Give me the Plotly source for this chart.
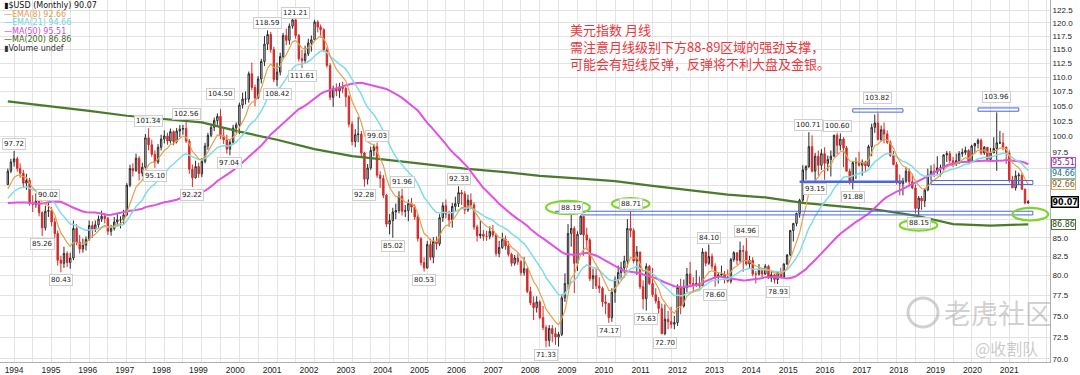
import math
import pandas as pd
import plotly.graph_objects as go

# ---------------- data ----------------
# monthly closes before the first visible bar (used only to seed EMA / MA lines)
warmup_close = [
    97.0, 95.6, 98.0, 98.5, 103.5, 101.5, 97.5, 101.0, 97.8, 96.5, 94.6, 92.8,   # 1989
    93.0, 92.5, 94.6, 93.5, 92.8, 91.6, 88.2, 86.0, 86.0, 82.6, 82.5, 83.9,      # 1990
    81.6, 84.2, 92.0, 93.2, 93.4, 97.6, 94.0, 94.5, 90.6, 90.4, 86.8, 84.8,      # 1991
    89.4, 91.6, 93.0, 92.2, 89.6, 85.6, 82.6, 80.0, 80.6, 86.0, 89.6, 90.8,      # 1992
    93.0, 93.4, 90.8, 88.4, 88.4, 91.4, 94.6, 91.4, 90.2, 92.6,                  # 1993 Jan-Oct
]
first_month = "1993-11-01"
first_open = 92.6

close = [
    94.6, 96.0,
    96.5, 95.0, 94.3, 92.8, 93.2, 89.9, 89.7, 90.2, 88.5, 86.4, 88.7, 88.8,
    87.2, 85.6, 82.0, 81.6, 82.9, 81.7, 82.3, 86.3, 84.4, 83.5, 84.0, 84.8,
    86.7, 86.2, 86.8, 87.6, 88.0, 87.7, 85.9, 86.3, 87.2, 87.5, 87.5, 88.2,
    92.5, 95.0, 94.7, 96.6, 94.3, 95.2, 99.8, 98.7, 97.2, 96.0, 98.3, 99.6,
    100.1, 99.3, 100.8, 99.2, 100.9, 101.2, 101.3, 99.3, 94.9, 93.6, 95.3, 94.2,
    96.1, 98.5, 100.2, 101.5, 102.6, 103.3, 100.1, 99.5, 98.0, 99.1, 101.4, 101.9,
    105.2, 106.2, 106.2, 110.6, 108.2, 106.4, 109.7, 112.8, 116.0, 117.8, 115.0, 109.6,
    110.9, 113.7, 117.6, 116.7, 119.4, 120.6, 117.6, 113.3, 113.0, 114.2, 116.2, 116.8,
    120.2, 119.2, 118.7, 114.9, 112.1, 106.5, 108.0, 107.6, 108.3, 108.0, 106.6, 102.0,
    99.2, 100.3, 100.4, 97.4, 93.4, 95.1, 97.8, 98.4, 94.0, 93.5, 91.0, 86.9,
    87.4, 88.6, 88.8, 90.9, 88.7, 88.8, 89.8, 89.3, 87.9, 84.9, 81.7, 81.0,
    84.1, 82.4, 84.5, 84.2, 87.8, 89.5, 88.3, 87.5, 89.4, 89.8, 91.4, 91.2,
    88.9, 90.3, 89.6, 86.5, 85.3, 85.5, 85.2, 85.2, 85.9, 85.4, 82.9, 83.7,
    84.8, 83.9, 82.8, 81.6, 82.3, 81.8, 80.4, 80.9, 78.0, 76.6, 76.0, 76.7,
    74.8, 73.6, 72.1, 73.5, 72.9, 72.5, 72.8, 77.2, 79.0, 85.6, 86.3, 81.6,
    85.5, 88.0, 85.4, 84.7, 79.6, 80.0, 78.7, 78.4, 76.7, 76.5, 74.8, 77.9,
    79.5, 80.4, 81.0, 81.9, 86.3, 86.0, 81.9, 83.1, 78.6, 77.1, 81.2, 79.0,
    77.6, 76.8, 75.9, 72.9, 74.6, 74.3, 74.0, 74.2, 78.5, 76.2, 78.5, 80.2,
    79.0, 78.8, 79.0, 78.7, 83.1, 81.6, 82.5, 81.2, 79.9, 80.1, 80.2, 79.8,
    79.3, 82.1, 83.0, 82.0, 83.3, 83.2, 81.5, 82.0, 80.2, 80.2, 80.7, 80.2,
    81.2, 79.7, 80.1, 79.5, 80.4, 79.8, 81.5, 82.7, 86.0, 87.0, 88.4, 90.3,
    94.8, 95.3, 98.4, 94.6, 96.9, 95.5, 97.3, 95.8, 96.4, 96.9, 100.2, 98.6,
    99.6, 98.2, 94.6, 93.1, 95.9, 95.9, 95.5, 96.0, 95.4, 98.4, 101.5, 102.2,
    99.5, 101.1, 100.4, 99.1, 97.0, 95.6, 92.9, 92.7, 93.1, 94.6, 93.0, 92.1,
    89.1, 90.6, 90.2, 91.8, 94.0, 94.6, 94.5, 95.1, 95.1, 97.1, 97.3, 96.2,
    95.6, 96.2, 97.3, 97.5, 97.8, 96.1, 98.5, 98.9, 99.4, 97.4, 98.3, 96.4,
    97.4, 98.1, 99.0, 99.0, 98.3, 97.4, 93.3, 92.1, 93.9, 94.0, 91.9, 89.9,
    90.07,
]
high = [
    95.0, 96.5,
    97.72, 96.8, 95.8, 94.8, 94.2, 93.6, 91.0, 91.3, 90.5, 88.7, 89.5, 90.02,
    89.3, 87.8, 86.0, 82.6, 83.8, 83.2, 83.0, 87.4, 86.9, 85.4, 84.9, 85.2,
    87.4, 87.3, 87.4, 88.1, 88.8, 88.4, 87.9, 86.8, 87.9, 88.3, 88.0, 88.9,
    92.8, 95.6, 95.8, 97.3, 96.9, 95.9, 100.4, 101.34, 99.5, 97.8, 98.8, 100.3,
    101.0, 100.6, 101.3, 101.0, 101.4, 101.9, 101.9, 102.56, 99.6, 95.6, 96.2, 95.9,
    96.6, 99.0, 100.6, 102.1, 103.1, 103.8, 104.50, 101.4, 100.3, 99.6, 101.9, 102.3,
    105.6, 107.3, 107.5, 111.0, 112.6, 108.7, 110.2, 113.3, 117.5, 118.59, 118.3, 115.5,
    112.6, 114.4, 118.1, 118.9, 119.9, 121.0, 121.21, 117.9, 114.9, 115.7, 117.0, 117.6,
    120.6, 120.5, 119.7, 119.0, 115.4, 112.5, 108.5, 108.9, 109.0, 109.2, 108.3, 106.9,
    102.5, 101.2, 103.2, 100.9, 97.6, 95.7, 98.4, 98.8, 99.03, 94.6, 94.0, 91.2,
    88.3, 89.2, 89.8, 91.6, 91.96, 89.6, 90.4, 90.6, 89.7, 88.2, 85.1, 82.4,
    84.6, 84.9, 85.1, 85.2, 88.3, 90.0, 90.4, 88.8, 89.9, 90.8, 92.33, 91.8,
    91.6, 91.1, 91.3, 90.0, 86.8, 87.4, 86.1, 86.0, 86.6, 86.8, 85.6, 84.6,
    85.7, 85.3, 84.6, 83.0, 82.7, 82.9, 82.0, 82.4, 81.0, 78.6, 77.4, 77.4,
    76.9, 76.2, 73.9, 73.9, 73.9, 73.6, 73.1, 77.6, 80.3, 86.9, 88.19, 86.6,
    85.9, 88.1, 88.0, 86.4, 85.0, 80.9, 81.0, 79.8, 78.6, 77.6, 76.6, 78.4,
    79.9, 81.3, 81.8, 82.6, 87.6, 88.71, 86.3, 83.9, 83.1, 79.4, 81.6, 81.4,
    81.0, 78.4, 77.3, 76.5, 76.4, 75.6, 76.1, 75.0, 78.9, 79.6, 79.5, 81.0,
    81.8, 79.8, 80.7, 79.9, 83.6, 83.1, 84.10, 82.9, 81.6, 80.4, 81.3, 80.6,
    80.8, 82.3, 83.2, 83.0, 84.5, 84.0, 84.96, 82.6, 82.4, 80.6, 81.5, 81.0,
    81.5, 81.4, 80.5, 80.2, 80.6, 81.0, 81.6, 82.8, 86.1, 87.0, 88.5, 90.5,
    95.5, 95.5, 100.71, 100.2, 97.4, 97.8, 98.0, 98.3, 97.0, 97.8, 100.3, 100.60,
    100.5, 99.9, 98.5, 95.0, 96.0, 96.7, 97.6, 96.4, 96.2, 98.7, 102.1, 103.6,
    103.82, 101.8, 102.3, 101.0, 99.4, 97.7, 96.0, 94.1, 93.6, 95.2, 95.0, 94.2,
    92.6, 90.9, 90.9, 92.0, 95.0, 95.5, 95.7, 96.9, 95.6, 97.2, 97.7, 97.7,
    96.8, 97.3, 97.7, 98.1, 98.4, 98.0, 98.7, 99.0, 99.7, 99.7, 98.5, 98.3,
    98.2, 99.9, 103.96, 100.9, 100.6, 98.4, 97.8, 93.9, 94.7, 94.4, 94.3, 92.0,
    90.3,
]
low = [
    92.5, 94.3,
    95.3, 94.5, 93.6, 92.2, 91.8, 89.5, 88.6, 89.2, 88.0, 85.26, 86.0, 87.9,
    86.6, 85.0, 81.3, 80.43, 81.0, 81.1, 80.9, 82.0, 84.0, 82.9, 83.0, 83.3,
    84.6, 85.0, 85.8, 86.4, 87.2, 87.0, 85.4, 85.3, 86.0, 86.6, 86.3, 86.9,
    88.0, 92.2, 93.8, 94.5, 93.2, 93.8, 95.0, 97.8, 96.8, 95.10, 95.7, 97.8,
    98.9, 98.7, 98.9, 98.6, 98.9, 99.9, 100.3, 99.0, 94.2, 92.22, 93.5, 93.6,
    93.7, 95.8, 97.9, 99.9, 100.9, 101.9, 99.6, 98.8, 97.3, 97.04, 98.7, 100.5,
    100.4, 104.6, 105.3, 105.6, 107.7, 105.0, 106.2, 108.9, 112.0, 114.9, 114.4, 109.1,
    108.42, 110.3, 113.3, 115.8, 115.9, 118.9, 117.0, 112.8, 111.61, 112.4, 113.8, 114.6,
    116.5, 118.2, 117.2, 114.5, 111.7, 106.0, 104.9, 106.7, 106.4, 107.2, 104.9, 101.5,
    98.6, 98.3, 99.1, 96.9, 92.28, 92.6, 94.8, 96.9, 93.6, 92.1, 90.6, 86.5,
    85.5, 85.02, 87.6, 88.4, 88.1, 87.9, 87.3, 88.5, 87.5, 84.5, 81.3, 80.53,
    80.9, 82.0, 81.6, 83.4, 83.9, 87.2, 87.7, 86.5, 86.4, 88.6, 89.3, 89.6,
    88.3, 88.6, 89.0, 86.1, 84.5, 84.9, 84.6, 84.6, 84.8, 85.1, 82.5, 82.4,
    83.5, 83.4, 82.5, 81.2, 81.3, 81.4, 80.0, 80.0, 77.8, 76.3, 74.5, 75.4,
    74.6, 73.3, 71.33, 71.4, 71.9, 71.6, 71.4, 72.6, 76.7, 78.3, 83.8, 77.8,
    80.6, 85.4, 82.6, 83.4, 79.3, 78.3, 78.3, 77.8, 76.1, 75.2, 74.17, 74.3,
    76.6, 78.9, 79.5, 80.3, 81.1, 85.1, 81.6, 80.1, 78.3, 75.8, 75.63, 78.8,
    77.3, 76.5, 75.3, 72.8, 72.70, 73.4, 73.5, 73.4, 73.8, 75.2, 76.0, 77.9,
    78.5, 77.9, 78.6, 78.4, 78.6, 81.2, 81.4, 80.8, 78.60, 79.0, 79.9, 79.0,
    79.1, 79.0, 81.8, 81.4, 81.7, 80.5, 81.3, 80.9, 79.9, 79.0, 80.0, 79.7,
    80.1, 79.6, 79.2, 79.0, 78.93, 79.7, 79.8, 81.4, 82.6, 84.5, 86.6, 87.8,
    90.0, 93.3, 95.1, 94.4, 93.15, 93.9, 94.8, 93.3, 94.6, 93.8, 96.8, 97.2,
    97.8, 95.2, 94.6, 92.6, 91.88, 93.4, 95.3, 93.9, 94.5, 95.2, 96.9, 100.6,
    99.4, 99.2, 98.9, 98.8, 96.8, 95.5, 92.6, 91.0, 91.0, 92.8, 92.5, 91.9,
    88.4, 88.15, 88.9, 89.3, 91.6, 93.2, 93.7, 94.0, 93.8, 94.8, 96.0, 95.8,
    95.2, 95.4, 95.7, 96.8, 97.1, 95.8, 96.1, 97.3, 98.1, 97.1, 97.1, 96.2,
    96.2, 97.4, 94.65, 98.8, 97.8, 95.7, 92.9, 92.1, 91.7, 92.5, 91.8, 89.7,
    89.8,
]

# MA(200)
ma200_dates = ["1993-11-01", "1995-01-01", "1996-01-01", "1997-01-01", "1998-01-01",
               "1999-01-01", "2000-01-01", "2001-01-01", "2002-01-01", "2003-01-01",
               "2004-01-01", "2005-01-01", "2006-01-01", "2007-01-01", "2008-01-01",
               "2009-01-01", "2010-01-01", "2011-01-01", "2012-01-01", "2013-01-01",
               "2014-01-01", "2015-01-01", "2016-01-01", "2017-01-01", "2018-01-01",
               "2019-01-01", "2020-01-01", "2021-01-01"]
ma200_vals = [105.8, 105.0, 104.2, 103.4, 102.8, 102.3, 100.8, 99.5, 98.0, 96.9,
              96.3, 95.6, 95.0, 94.5, 93.9, 93.5, 93.1, 92.4, 91.8, 91.1,
              90.7, 89.9, 89.4, 88.9, 88.1, 86.9, 86.7, 86.86]

legend_vals = {"close": 90.07, "ema8": 92.66, "ema21": 94.66, "ma50": 95.51, "ma200": 86.86}

x_tick_years = list(range(1994, 2022))
y_ticks = [70.0, 72.5, 75.0, 77.5, 80.0, 82.5, 85.0, 87.5, 90.0, 92.5, 95.0, 97.5,
           100.0, 102.5, 105.0, 107.5, 110.0, 112.5, 115.0, 117.5, 120.0, 122.5]
# tick labels that sit under the value tags on the right are not readable in the chart
hidden_ticks = [87.5, 90.0, 92.5, 95.0]

high_labels = [("1994-01-01", 97.72), ("1994-12-01", 90.02), ("1997-08-01", 101.34),
               ("1998-08-01", 102.56), ("1999-07-01", 104.50), ("2000-10-01", 118.59),
               ("2001-07-01", 121.21), ("2003-09-01", 99.03), ("2004-05-01", 91.96),
               ("2005-11-01", 92.33), ("2008-11-01", 88.19), ("2010-06-01", 88.71),
               ("2012-07-01", 84.10), ("2013-07-01", 84.96), ("2015-03-01", 100.71),
               ("2015-12-01", 100.60), ("2017-01-01", 103.82), ("2020-03-01", 103.96)]
low_labels = [("1994-10-01", 85.26), ("1995-04-01", 80.43), ("1997-10-01", 95.10),
              ("1998-10-01", 92.22), ("1999-10-01", 97.04), ("2001-01-01", 108.42),
              ("2001-09-01", 111.61), ("2003-05-01", 92.28), ("2004-02-01", 85.02),
              ("2004-12-01", 80.53), ("2008-03-01", 71.33), ("2009-11-01", 74.17),
              ("2010-11-01", 75.63), ("2011-05-01", 72.70), ("2012-09-01", 78.60),
              ("2014-05-01", 78.93), ("2015-05-01", 93.15), ("2016-05-01", 91.88),
              ("2018-02-01", 88.15)]

note_lines = ["美元指数 月线",
              "需注意月线级别下方88-89区域的强劲支撑，",
              "可能会有短线反弹，反弹将不利大盘及金银。"]

assert len(close) == len(high) == len(low) == 327

# ---------------- derived ----------------
dates = pd.date_range(first_month, periods=len(close), freq="MS")
opens = [first_open] + close[:-1]
allc = pd.Series(warmup_close + close, dtype=float)
n0 = len(warmup_close)
ema8 = allc.ewm(span=8, adjust=False).mean().iloc[n0:].values
ema21 = allc.ewm(span=21, adjust=False).mean().iloc[n0:].values
ma50 = allc.rolling(50).mean().iloc[n0:].values

# year labels in the source sit a little left of each year's first bar, drifting
# further left across the chart; place them the same way
LABEL_SCALE = 0.9814
x_tick_pos = [pd.Timestamp("1994-01-01") + pd.Timedelta(days=(y - 1994) * 365.25 * LABEL_SCALE)
              for y in x_tick_years]

L = math.log10
H_PLOT = 362.0
W_PLOT = 1050.0

fig = go.Figure()
fig.add_trace(go.Candlestick(
    x=dates, open=opens, high=high, low=low, close=close,
    increasing=dict(line=dict(color="#2a2a2a", width=1), fillcolor="#e6e6e6"),
    decreasing=dict(line=dict(color="#d42a2a", width=1), fillcolor="#d42a2a"),
    whiskerwidth=0, showlegend=False, hoverinfo="skip"))

fig.add_trace(go.Scatter(x=ma200_dates, y=ma200_vals, mode="lines",
                         line=dict(color="#4a7a2c", width=2.2), showlegend=False, hoverinfo="skip"))
fig.add_trace(go.Scatter(x=dates, y=ma50, mode="lines",
                         line=dict(color="#e052e0", width=2), showlegend=False, hoverinfo="skip"))
fig.add_trace(go.Scatter(x=dates, y=ema21, mode="lines",
                         line=dict(color="#7fdce8", width=1.5), showlegend=False, hoverinfo="skip"))
fig.add_trace(go.Scatter(x=dates, y=ema8, mode="lines",
                         line=dict(color="#e3a24c", width=1.2), showlegend=False, hoverinfo="skip"))

# hand-drawn support / resistance marks
BLUE = "#4a66e0"
def seg(xs, ys, w=1.0):
    fig.add_trace(go.Scatter(x=xs, y=ys, mode="lines", line=dict(color=BLUE, width=w),
                             showlegend=False, hoverinfo="skip"))

seg(["2008-06-01", "2008-06-01", "2021-02-15", "2021-02-15", "2009-02-01"],
    [88.45, 88.71, 88.71, 88.19, 88.19])
seg(["2014-12-01", "2017-09-01"], [93.0, 93.0], 2.5)
seg(["2018-06-01", "2021-02-15", "2021-02-15", "2018-06-01", "2018-06-01"],
    [93.2, 93.2, 92.6, 92.6, 93.2])
seg(["2016-05-01", "2017-09-01", "2017-09-01", "2016-05-01", "2016-05-01"],
    [104.0, 104.0, 104.55, 104.55, 104.0])
seg(["2019-09-01", "2020-10-01", "2020-10-01", "2019-09-01", "2019-09-01"],
    [104.15, 104.15, 104.7, 104.7, 104.15])

GREEN = "#7fd62a"
ellipses = [("2008-03-01", "2009-05-01", 88.3, 90.2),
            ("2009-12-01", "2010-12-01", 89.0, 90.6),
            ("2017-08-01", "2018-08-01", 86.0, 87.5),
            ("2020-08-01", "2021-07-15", 87.4, 89.2)]
shapes = []
for x0, x1, y0, y1 in ellipses:
    shapes.append(dict(type="circle", xref="x", yref="y", x0=x0, x1=x1, y0=y0, y1=y1,
                       line=dict(color=GREEN, width=2.2)))
# watermark logo ring
shapes.append(dict(type="circle", xref="paper", yref="paper",
                   x0=908 / W_PLOT, x1=938 / W_PLOT, y0=1 - 327 / H_PLOT, y1=1 - 298 / H_PLOT,
                   line=dict(color="rgba(170,170,170,0.55)", width=3)))

ann = []
lab_font = dict(family="DejaVu Sans", size=7, color="#222")
for d, v in high_labels:
    shift = 9 if 103.5 < v < 110 else (-2 if v > 120 else 1)
    ann.append(dict(x=d, y=L(v), text=f"{v:.2f}", showarrow=False, yanchor="bottom",
                    yshift=shift, font=lab_font, bgcolor="rgba(255,255,255,0.85)",
                    bordercolor="#cfcfcf", borderwidth=1, borderpad=1))
for d, v in low_labels:
    ann.append(dict(x=d, y=L(v), text=f"{v:.2f}", showarrow=False, yanchor="top",
                    yshift=-2, font=lab_font, bgcolor="rgba(255,255,255,0.85)",
                    bordercolor="#cfcfcf", borderwidth=1, borderpad=1))

# right side value tags
tags = [(legend_vals["ma50"], "#d040d0", "#7a2a7a", 3),
        (legend_vals["ema21"], "#5ccbdc", "#2a6a78", -3),
        (legend_vals["ema8"], "#e0a050", "#8a5a20", 0),
        (legend_vals["ma200"], "#4a7a2c", "#2a4a1c", 0)]
for v, bc, tc, ys in tags:
    ann.append(dict(xref="paper", x=1.0, xanchor="left", xshift=1, y=L(v), yref="y", yshift=ys,
                    text=f"{v:.2f}", showarrow=False, font=dict(family="DejaVu Sans", size=8, color=tc),
                    bgcolor="white", bordercolor=bc, borderwidth=1, borderpad=0))
ann.append(dict(xref="paper", x=1.0, xanchor="left", xshift=1, y=L(legend_vals["close"]), yref="y",
                text=f"<b>{legend_vals['close']:.2f}</b>", showarrow=False,
                font=dict(family="DejaVu Sans", size=8, color="#000"),
                bgcolor="white", bordercolor="#000", borderwidth=1.5, borderpad=0))

# top-left legend
legend_lines = [
    (f"▮$USD (Monthly) {legend_vals['close']:.2f}", "#111", 5),
    (f"—EMA(8) {legend_vals['ema8']:.2f}", "#e0a050", 14),
    (f"—EMA(21) {legend_vals['ema21']:.2f}", "#6fd3e3", 22.5),
    (f"—MA(50) {legend_vals['ma50']:.2f}", "#d84ad8", 31),
    (f"—MA(200) {legend_vals['ma200']:.2f}", "#3f6a25", 39.5),
    ("▮Volume undef", "#333", 48),
]
for t, c, py in legend_lines:
    ann.append(dict(xref="paper", yref="paper", x=2 / W_PLOT, y=1 - py / H_PLOT, xanchor="left",
                    yanchor="middle", text=t, showarrow=False,
                    font=dict(family="DejaVu Sans", size=8, color=c)))

# note text (one block, three lines)
RED = "#e8383d"
ann.append(dict(xref="paper", yref="paper", x=568 / W_PLOT, y=1 - 47 / H_PLOT, xanchor="left",
                yanchor="middle", align="left", text="<br>".join(note_lines), showarrow=False,
                font=dict(family="Noto Sans CJK SC", size=13, color=RED)))

# watermarks
ann.append(dict(xref="paper", yref="paper", x=998 / W_PLOT, y=1 - 312 / H_PLOT, xanchor="center",
                yanchor="middle", text="老虎社区", showarrow=False,
                font=dict(family="Noto Sans CJK SC", size=27, color="rgba(150,150,150,0.45)")))
ann.append(dict(xref="paper", yref="paper", x=1006 / W_PLOT, y=1 - 348 / H_PLOT, xanchor="center",
                yanchor="middle", text="@收割队", showarrow=False,
                font=dict(family="Noto Sans CJK SC", size=16, color="rgba(150,150,150,0.5)")))

fig.update_layout(
    width=1080, height=375,
    margin=dict(l=0, r=30, t=0, b=13),
    paper_bgcolor="white", plot_bgcolor="white",
    showlegend=False, hovermode=False,
    shapes=shapes, annotations=ann,
    xaxis=dict(type="date", range=["1993-08-17", "2021-08-01"], rangeslider=dict(visible=False),
               tickvals=x_tick_pos, ticktext=[str(y) for y in x_tick_years], ticks="",
               showgrid=False,
               minor=dict(dtick="M6", tick0="1994-01-01", showgrid=True, gridcolor="#e4e4e4"),
               showline=True, linecolor="#b0b0b0", automargin=False,
               tickfont=dict(family="Liberation Sans", size=8.5, color="#222")),
    yaxis=dict(type="log", range=[L(69.65), L(124.5)], side="right",
               tickvals=y_ticks,
               ticktext=["" if v in hidden_ticks else f"{v:.1f}" for v in y_ticks], ticks="",
               showgrid=True, gridcolor="#e2e2e2", showline=True, linecolor="#b0b0b0",
               automargin=False, zeroline=False,
               tickfont=dict(family="Liberation Sans", size=8, color="#222")),
)

# remove the browser's default page margin so the figure sits at the window origin
fig.write_html("out.html", config={"displayModeBar": False},
               post_script="document.body.style.margin='0';")
